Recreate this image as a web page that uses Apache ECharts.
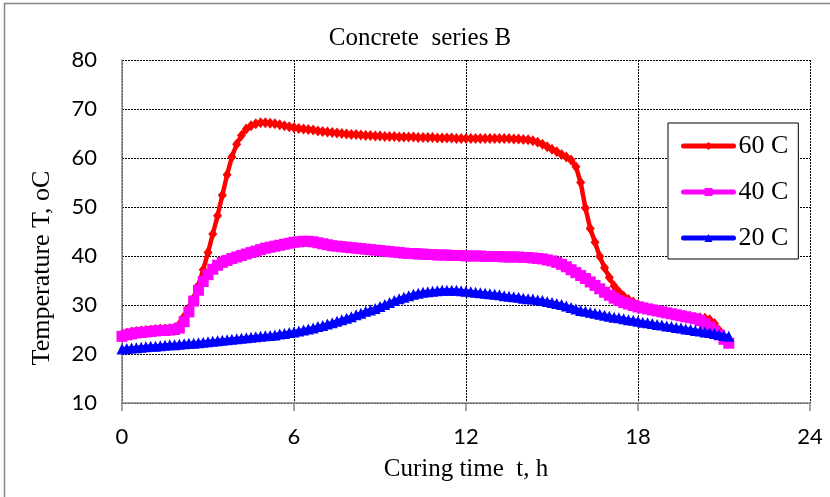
<!DOCTYPE html>
<html>
<head>
<meta charset="utf-8">
<script src="https://cdn.jsdelivr.net/npm/echarts@6/dist/echarts.min.js"></script>
<style>
  html, body { margin: 0; padding: 0; background: #fff; }
  #chart { width: 830px; height: 497px; }
</style>
</head>
<body>
<div id="chart"></div>
<script>
// Temperature logged every 10 minutes during curing (hours on x, degrees C on y)
const TIME_STEP_H = 1 / 6;

const xTicks = [0, 6, 12, 18, 24];
const yTicks = [10, 20, 30, 40, 50, 60, 70, 80];

const seriesNames = ['60 C', '40 C', '20 C'];

const temp60 = [
  24.0, 24.3, 24.5, 24.6, 24.7, 24.8, 24.9, 25.0, 25.1, 25.1, 25.2, 25.3,
  26.0, 27.6, 29.4, 31.4, 34.0, 37.2, 40.7, 44.5, 48.2, 52.4, 56.6, 60.2,
  62.8, 64.6, 65.9, 66.6, 67.0, 67.2, 67.2, 67.1, 67.0, 66.8, 66.6, 66.4,
  66.2, 66.0, 65.9, 65.8, 65.7, 65.5, 65.4, 65.3, 65.2, 65.1, 65.0, 64.9,
  64.8, 64.8, 64.7, 64.6, 64.6, 64.5, 64.5, 64.4, 64.4, 64.4, 64.3, 64.3,
  64.3, 64.3, 64.2, 64.2, 64.2, 64.2, 64.1, 64.1, 64.1, 64.1, 64.0, 64.0,
  64.0, 64.0, 64.0, 64.0, 64.0, 64.0, 64.0, 64.0, 64.0, 64.0, 63.9, 63.9,
  63.8, 63.7, 63.5, 63.2, 62.8, 62.3, 61.8, 61.3, 60.7, 60.2, 59.6, 58.2,
  55.0, 49.8, 45.6, 42.8, 39.9, 37.6, 35.6, 33.9, 32.7, 31.8, 31.1, 30.6,
  30.1, 29.7, 29.3, 29.0, 28.8, 28.6, 28.4, 28.2, 28.0, 27.8, 27.6, 27.5,
  27.4, 27.4, 27.3, 27.0, 26.2, 24.8
];

const temp40 = [
  23.6, 23.9, 24.1, 24.3, 24.4, 24.5, 24.6, 24.7, 24.8, 24.8, 24.9, 25.0,
  25.3, 26.6, 28.6, 30.8, 33.0, 34.8, 36.2, 37.3, 38.1, 38.7, 39.1, 39.5,
  39.8, 40.1, 40.4, 40.7, 41.0, 41.3, 41.6, 41.8, 42.0, 42.2, 42.4, 42.6,
  42.8, 42.9, 43.0, 43.0, 42.9, 42.7, 42.5, 42.3, 42.1, 42.0, 41.9, 41.8,
  41.7, 41.6, 41.5, 41.4, 41.3, 41.2, 41.1, 41.0, 40.9, 40.8, 40.7, 40.6,
  40.5, 40.5, 40.4, 40.4, 40.3, 40.3, 40.2, 40.2, 40.2, 40.1, 40.1, 40.1,
  40.0, 40.0, 40.0, 40.0, 39.9, 39.9, 39.9, 39.9, 39.8, 39.8, 39.8, 39.8,
  39.7, 39.7, 39.6, 39.5, 39.4, 39.2, 39.0, 38.7, 38.3, 37.8, 37.2, 36.6,
  36.0, 35.4, 34.7, 34.0, 33.3, 32.6, 32.0, 31.4, 30.9, 30.5, 30.2, 29.9,
  29.6, 29.4, 29.2, 29.0, 28.8, 28.6, 28.4, 28.2, 28.0, 27.8, 27.6, 27.4,
  27.2, 26.8, 26.2, 25.5, 24.7, 23.9, 23.0, 22.2
];

const temp20 = [
  21.0, 21.1, 21.2, 21.3, 21.4, 21.5, 21.6, 21.6, 21.7, 21.8, 21.9, 21.9,
  22.0, 22.1, 22.2, 22.2, 22.3, 22.4, 22.5, 22.6, 22.7, 22.8, 22.9, 23.0,
  23.1, 23.2, 23.3, 23.4, 23.5, 23.6, 23.7, 23.8, 23.9, 24.1, 24.2, 24.4,
  24.5, 24.7, 24.9, 25.1, 25.3, 25.6, 25.8, 26.1, 26.4, 26.7, 27.0, 27.3,
  27.6, 28.0, 28.3, 28.7, 29.0, 29.3, 29.7, 30.1, 30.5, 30.9, 31.3, 31.6,
  31.9, 32.2, 32.4, 32.6, 32.7, 32.8, 32.9, 33.0, 33.0, 33.0, 33.0, 32.9,
  32.8, 32.7, 32.6, 32.5, 32.4, 32.3, 32.2, 32.1, 31.9, 31.8, 31.7, 31.6,
  31.4, 31.3, 31.2, 31.0, 30.9, 30.7, 30.5, 30.3, 30.1, 29.8, 29.5, 29.2,
  28.9, 28.7, 28.5, 28.3, 28.1, 27.9, 27.7, 27.5, 27.4, 27.2, 27.0, 26.9,
  26.7, 26.5, 26.4, 26.2, 26.0, 25.9, 25.7, 25.6, 25.4, 25.3, 25.1, 25.0,
  24.8, 24.7, 24.5, 24.4, 24.2, 24.0, 23.8, 23.6
];

const toPoints = values => values.map((v, i) => [i * TIME_STEP_H, v]);

const SERIF = '"Liberation Serif", "Times New Roman", serif';
const SANS = 'Lato, "Open Sans", sans-serif';
const AXIS_GRAY = '#868686';

const chart = echarts.init(document.getElementById('chart'), null, { renderer: 'canvas' });

function lineSeries(name, values, color, symbol, symbolSize, lineWidth, z) {
  return {
    name: name,
    type: 'line',
    data: toPoints(values),
    symbol: symbol,
    symbolSize: symbolSize,
    showSymbol: true,
    showAllSymbol: true,
    lineStyle: { color: color, width: lineWidth, cap: 'round', join: 'round' },
    itemStyle: { color: color, borderWidth: 0 },
    z: z
  };
}

chart.setOption({
  backgroundColor: '#ffffff',
  animation: false,
  title: {
    text: 'Concrete  series B',
    left: 415,
    top: 21,
    textAlign: 'center',
    textStyle: { fontFamily: SERIF, fontSize: 25, fontWeight: 'normal', color: '#000' }
  },
  grid: { left: 122, top: 60, right: 20, bottom: 94, containLabel: false },
  xAxis: {
    type: 'value',
    min: xTicks[0],
    max: xTicks[xTicks.length - 1],
    interval: xTicks[1] - xTicks[0],
    name: 'Curing time  t, h',
    nameLocation: 'middle',
    nameGap: 54,
    nameTextStyle: { fontFamily: SERIF, fontSize: 25, color: '#000' },
    axisLine: { show: true, lineStyle: { color: AXIS_GRAY, width: 1.5 } },
    axisTick: { show: true, length: 8, inside: false, lineStyle: { color: AXIS_GRAY, width: 1.5 } },
    axisLabel: { fontFamily: SANS, fontSize: 22, color: '#000', margin: 23 },
    splitLine: { show: true, lineStyle: { color: '#000', width: 1, type: [2, 1] } }
  },
  yAxis: {
    type: 'value',
    min: yTicks[0],
    max: yTicks[yTicks.length - 1],
    interval: yTicks[1] - yTicks[0],
    axisLine: { show: true, lineStyle: { color: AXIS_GRAY, width: 1.5 } },
    axisTick: { show: false },
    axisLabel: { fontFamily: SANS, fontSize: 22, color: '#000', margin: 25 },
    splitLine: { show: true, lineStyle: { color: '#000', width: 1, type: [2, 1] } }
  },
  legend: {
    orient: 'vertical',
    left: 668,
    top: 123,
    width: 132,
    padding: [10, 10, 8, 13],
    itemGap: 20,
    itemWidth: 50,
    itemHeight: 10,
    backgroundColor: '#fff',
    borderColor: '#000',
    borderWidth: 1,
    lineStyle: { width: 5, cap: 'round' },
    textStyle: { fontFamily: SERIF, fontSize: 26, color: '#000', lineHeight: 25, padding: [0, 0, 0, 0] },
    data: seriesNames
  },
  graphic: [
    {
      type: 'rect',
      shape: { x: 4.5, y: 3.5, width: 900, height: 600 },
      style: { fill: 'none', stroke: AXIS_GRAY, lineWidth: 1.5 },
      silent: true
    },
    {
      type: 'text',
      x: 42,
      y: 268,
      rotation: Math.PI / 2,
      style: {
        text: 'Temperature T, oC',
        font: '26px ' + SERIF,
        fill: '#000',
        align: 'center',
        verticalAlign: 'middle'
      }
    }
  ],
  series: [
    lineSeries(seriesNames[0], temp60, '#FF0000', 'diamond', [9, 11], 4.5, 2),
    lineSeries(seriesNames[1], temp40, '#FF00FF', 'rect', 11, 4, 3),
    lineSeries(seriesNames[2], temp20, '#0000FF', 'triangle', 11, 4, 4)
  ]
});
</script>
</body>
</html>
